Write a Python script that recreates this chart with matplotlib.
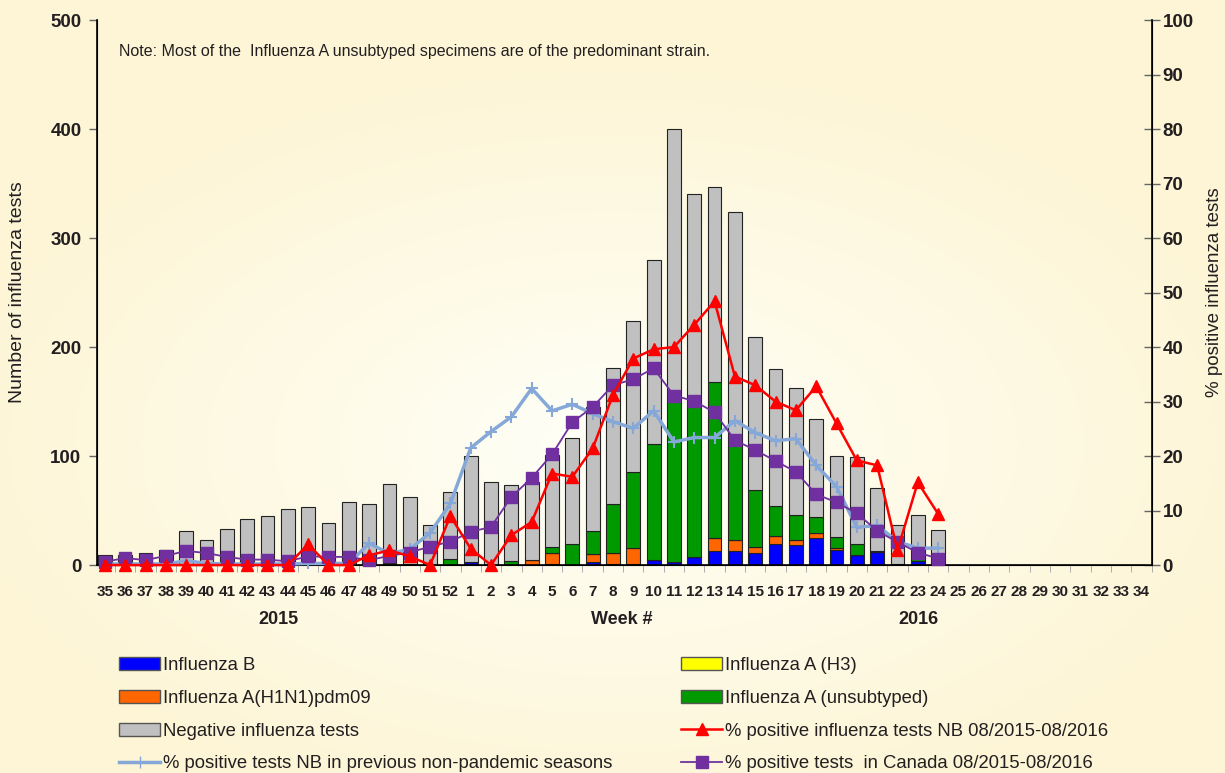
import numpy as np
import matplotlib
matplotlib.use("Agg")
import matplotlib.pyplot as plt
from matplotlib.patches import Patch
from matplotlib.lines import Line2D
from matplotlib.colors import LinearSegmentedColormap

plt.rcParams['font.family'] = ['Liberation Sans', 'DejaVu Sans']

weeks = [str(w) for w in range(35, 53)] + [str(w) for w in range(1, 35)]

# counts per week, weeks 35/2015 .. 24/2016
total = [9, 9, 11, 14, 31, 23, 33, 42, 45, 51, 53, 39, 58, 56, 74, 62, 37, 67,
         100, 76, 73, 76, 101, 117, 145, 181, 224, 280, 400, 340, 347, 324, 209, 180,
         162, 134, 100, 99, 71, 37, 46, 32]
flu_b = [0, 0, 0, 0, 0, 0, 0, 0, 0, 0, 2, 0, 0, 1, 0, 1, 0, 0,
         3, 0, 0, 0, 1, 0, 3, 1, 1, 5, 3, 7, 13, 13, 11, 19, 18, 25, 14, 9, 12, 1, 4, 3]
h1n1 = [0] * 18 + [0, 0, 0, 5, 10, 0, 7, 10, 15, 0, 0, 0, 12, 10, 6, 8, 5, 4, 2, 0, 0, 0, 0, 0]
h3 = [0] * 42
unsub = [0, 0, 0, 0, 0, 0, 0, 0, 0, 0, 0, 0, 0, 0, 2, 0, 0, 6,
         0, 0, 4, 0, 6, 19, 21, 45, 69, 106, 157, 143, 143, 88, 52, 27, 23, 15, 10, 10, 1, 0, 3, 0]

# percent lines
pct_nb = [0, 0, 0, 0, 0, 0, 0, 0, 0, 0, 3.8, 0, 0, 1.8, 2.7, 1.6, 0, 9.0,
          3.0, 0, 5.5, 7.9, 16.8, 16.2, 21.4, 31.2, 37.9, 39.6, 40.0, 44.1, 48.4, 34.6,
          33.0, 30.0, 28.4, 32.8, 26.0, 19.2, 18.3, 2.7, 15.2, 9.4]
pct_prev = [0.2, 0.2, 0.2, 0.2, 0.8, 0.3, 0.2, 0.2, 0.2, 0.2, 0.3, 0.3, 0.3, 4.0, 2.1, 2.9, 5.9, 11.3,
            21.5, 24.5, 27.2, 32.4, 28.3, 29.5, 27.8, 26.3, 25.1, 28.3, 22.6, 23.4, 23.4, 26.5,
            24.3, 22.8, 23.2, 18.3, 14.4, 6.9, 7.3, 4.3, 3.1, 3.1]
pct_can = [0.6, 1.3, 0.9, 1.7, 2.6, 2.2, 1.5, 1.0, 1.0, 0.7, 1.6, 1.5, 1.5, 0.9, 1.7, 2.3, 3.4, 4.3,
           6.1, 7.0, 12.5, 16.0, 20.3, 26.2, 29.0, 33.0, 34.1, 36.1, 31.1, 30.1, 28.0, 22.9,
           21.1, 19.1, 17.1, 13.0, 11.5, 9.5, 6.3, 4.2, 2.3, 1.2]

bg = '#FEF9E2'
txt = '#231F20'
c_b, c_h1, c_h3, c_un, c_neg = '#0000FF', '#FF6600', '#FFFF00', '#009900', '#C0C0C0'
c_red, c_prev, c_can = '#FF0000', '#86A8D8', '#7030A0'

n = len(total)
x = np.arange(n)
neg = np.array(total) - np.array(flu_b) - np.array(h1n1) - np.array(h3) - np.array(unsub)

fig = plt.figure(figsize=(12.25, 7.73), dpi=100, facecolor=bg)

# soft radial background, light in the middle, cream at the edges
bgax = fig.add_axes([0, 0, 1, 1], zorder=-10)
gx, gy = np.meshgrid(np.linspace(-1, 1, 245), np.linspace(-1, 1, 155))
r = np.clip(np.sqrt((gx / 1.1) ** 2 + ((gy - 0.15) / 1.0) ** 2), 0, 1)
cmap = LinearSegmentedColormap.from_list('bg', ['#FFFFF8', '#FEFAE6', '#FDF5D6'])
bgax.imshow(r, cmap=cmap, aspect='auto', extent=[0, 1, 0, 1], interpolation='bilinear')
bgax.axis('off')

ax = fig.add_axes([0.079, 0.269, 0.861, 0.705])
ax.set_facecolor('none')

w = 0.68
ec = '#222222'
bottom = np.zeros(n)
for vals, col in [(flu_b, c_b), (h1n1, c_h1), (h3, c_h3), (unsub, c_un), (neg, c_neg)]:
    vals = np.array(vals, dtype=float)
    ax.bar(x, vals, w, bottom=bottom, color=col, edgecolor=ec, linewidth=0.8, zorder=2)
    bottom += vals

ax.set_xlim(-0.4, len(weeks) - 0.5)
ax.set_ylim(0, 500)
ax.set_yticks(range(0, 501, 100))
ax.set_xticks(np.arange(len(weeks)))
ax.set_xticklabels(weeks, fontsize=11, fontweight='bold', color=txt)
ax.set_xticks(np.arange(len(weeks)) + 0.5, minor=True)
ax.tick_params(axis='x', which='major', length=0, pad=14)
ax.tick_params(axis='x', which='minor', length=5, color='#A0A0A0', direction='out')
ax.tick_params(axis='y', labelsize=13.5, length=6, width=1, color='#666666', direction='out', pad=5,
               labelcolor=txt)
for t in ax.get_yticklabels():
    t.set_fontweight('bold')
ax.set_ylabel('Number of influenza tests', fontsize=14, color=txt, ha='center', va='center')
ax.yaxis.set_label_coords(-0.0749, 0.5)
ax.spines['top'].set_visible(False)
ax.spines['left'].set_linewidth(1.2)
ax.spines['bottom'].set_linewidth(1.2)

ax2 = ax.twinx()
ax2.set_ylim(0, 100)
ax2.set_yticks(range(0, 101, 10))
ax2.tick_params(axis='y', labelsize=13.5, length=12, width=1, color='#666666', direction='inout', pad=2,
                labelcolor=txt)
for t in ax2.get_yticklabels():
    t.set_fontweight('bold')
ax2.set_ylabel('% positive influenza tests', fontsize=13.5, color=txt, ha='center', va='center')
ax2.yaxis.set_label_coords(1.06, 0.5)
ax2.spines['top'].set_visible(False)
ax2.spines['right'].set_linewidth(1.2)

ax2.plot(x, pct_prev, color=c_prev, lw=2.5, marker='+', ms=9, mew=1.5, zorder=3, clip_on=False)
ax2.plot(x, pct_can, color=c_can, lw=1.3, marker='s', ms=8, zorder=4, clip_on=False)
ax2.plot(x, pct_nb, color=c_red, lw=1.8, marker='^', ms=8, zorder=5, clip_on=False)

ax.text(0.0215, 0.935, 'Note: Most of the  Influenza A unsubtyped specimens are of the predominant strain.',
        transform=ax.transAxes, fontsize=11.5, color=txt)

fig.text(278 / 1225, 1 - 620 / 773, '2015', fontsize=13, fontweight='bold', ha='center', va='center',
         color=txt)
fig.text(622 / 1225, 1 - 620 / 773, 'Week #', fontsize=13, fontweight='bold', ha='center', va='center',
         color=txt)
fig.text(918 / 1225, 1 - 620 / 773, '2016', fontsize=13, fontweight='bold', ha='center', va='center',
         color=txt)

pe = '#555555'
col1 = [Patch(facecolor=c_b, edgecolor=pe, label='Influenza B'),
        Patch(facecolor=c_h1, edgecolor=pe, label='Influenza A(H1N1)pdm09'),
        Patch(facecolor=c_neg, edgecolor=pe, label='Negative influenza tests'),
        Line2D([], [], color=c_prev, lw=2.5, marker='+', ms=9,
               label='% positive tests NB in previous non-pandemic seasons')]
col2 = [Patch(facecolor=c_h3, edgecolor=pe, label='Influenza A (H3)'),
        Patch(facecolor=c_un, edgecolor=pe, label='Influenza A (unsubtyped)'),
        Line2D([], [], color=c_red, lw=1.8, marker='^', ms=8,
               label='% positive influenza tests NB 08/2015-08/2016'),
        Line2D([], [], color=c_can, lw=1.3, marker='s', ms=8,
               label='% positive tests  in Canada 08/2015-08/2016')]
for handles, xl in [(col1, 112 / 1225), (col2, 674 / 1225)]:
    leg = fig.legend(handles=handles, loc='upper left', bbox_to_anchor=(xl, 1 - 650 / 773),
                     frameon=False, fontsize=13.3, handlelength=2.2, handleheight=0.7,
                     handletextpad=0.15, labelspacing=0.85, borderaxespad=0)
    for t in leg.get_texts():
        t.set_color(txt)

fig.savefig('out.png', dpi=100, facecolor=bg)
